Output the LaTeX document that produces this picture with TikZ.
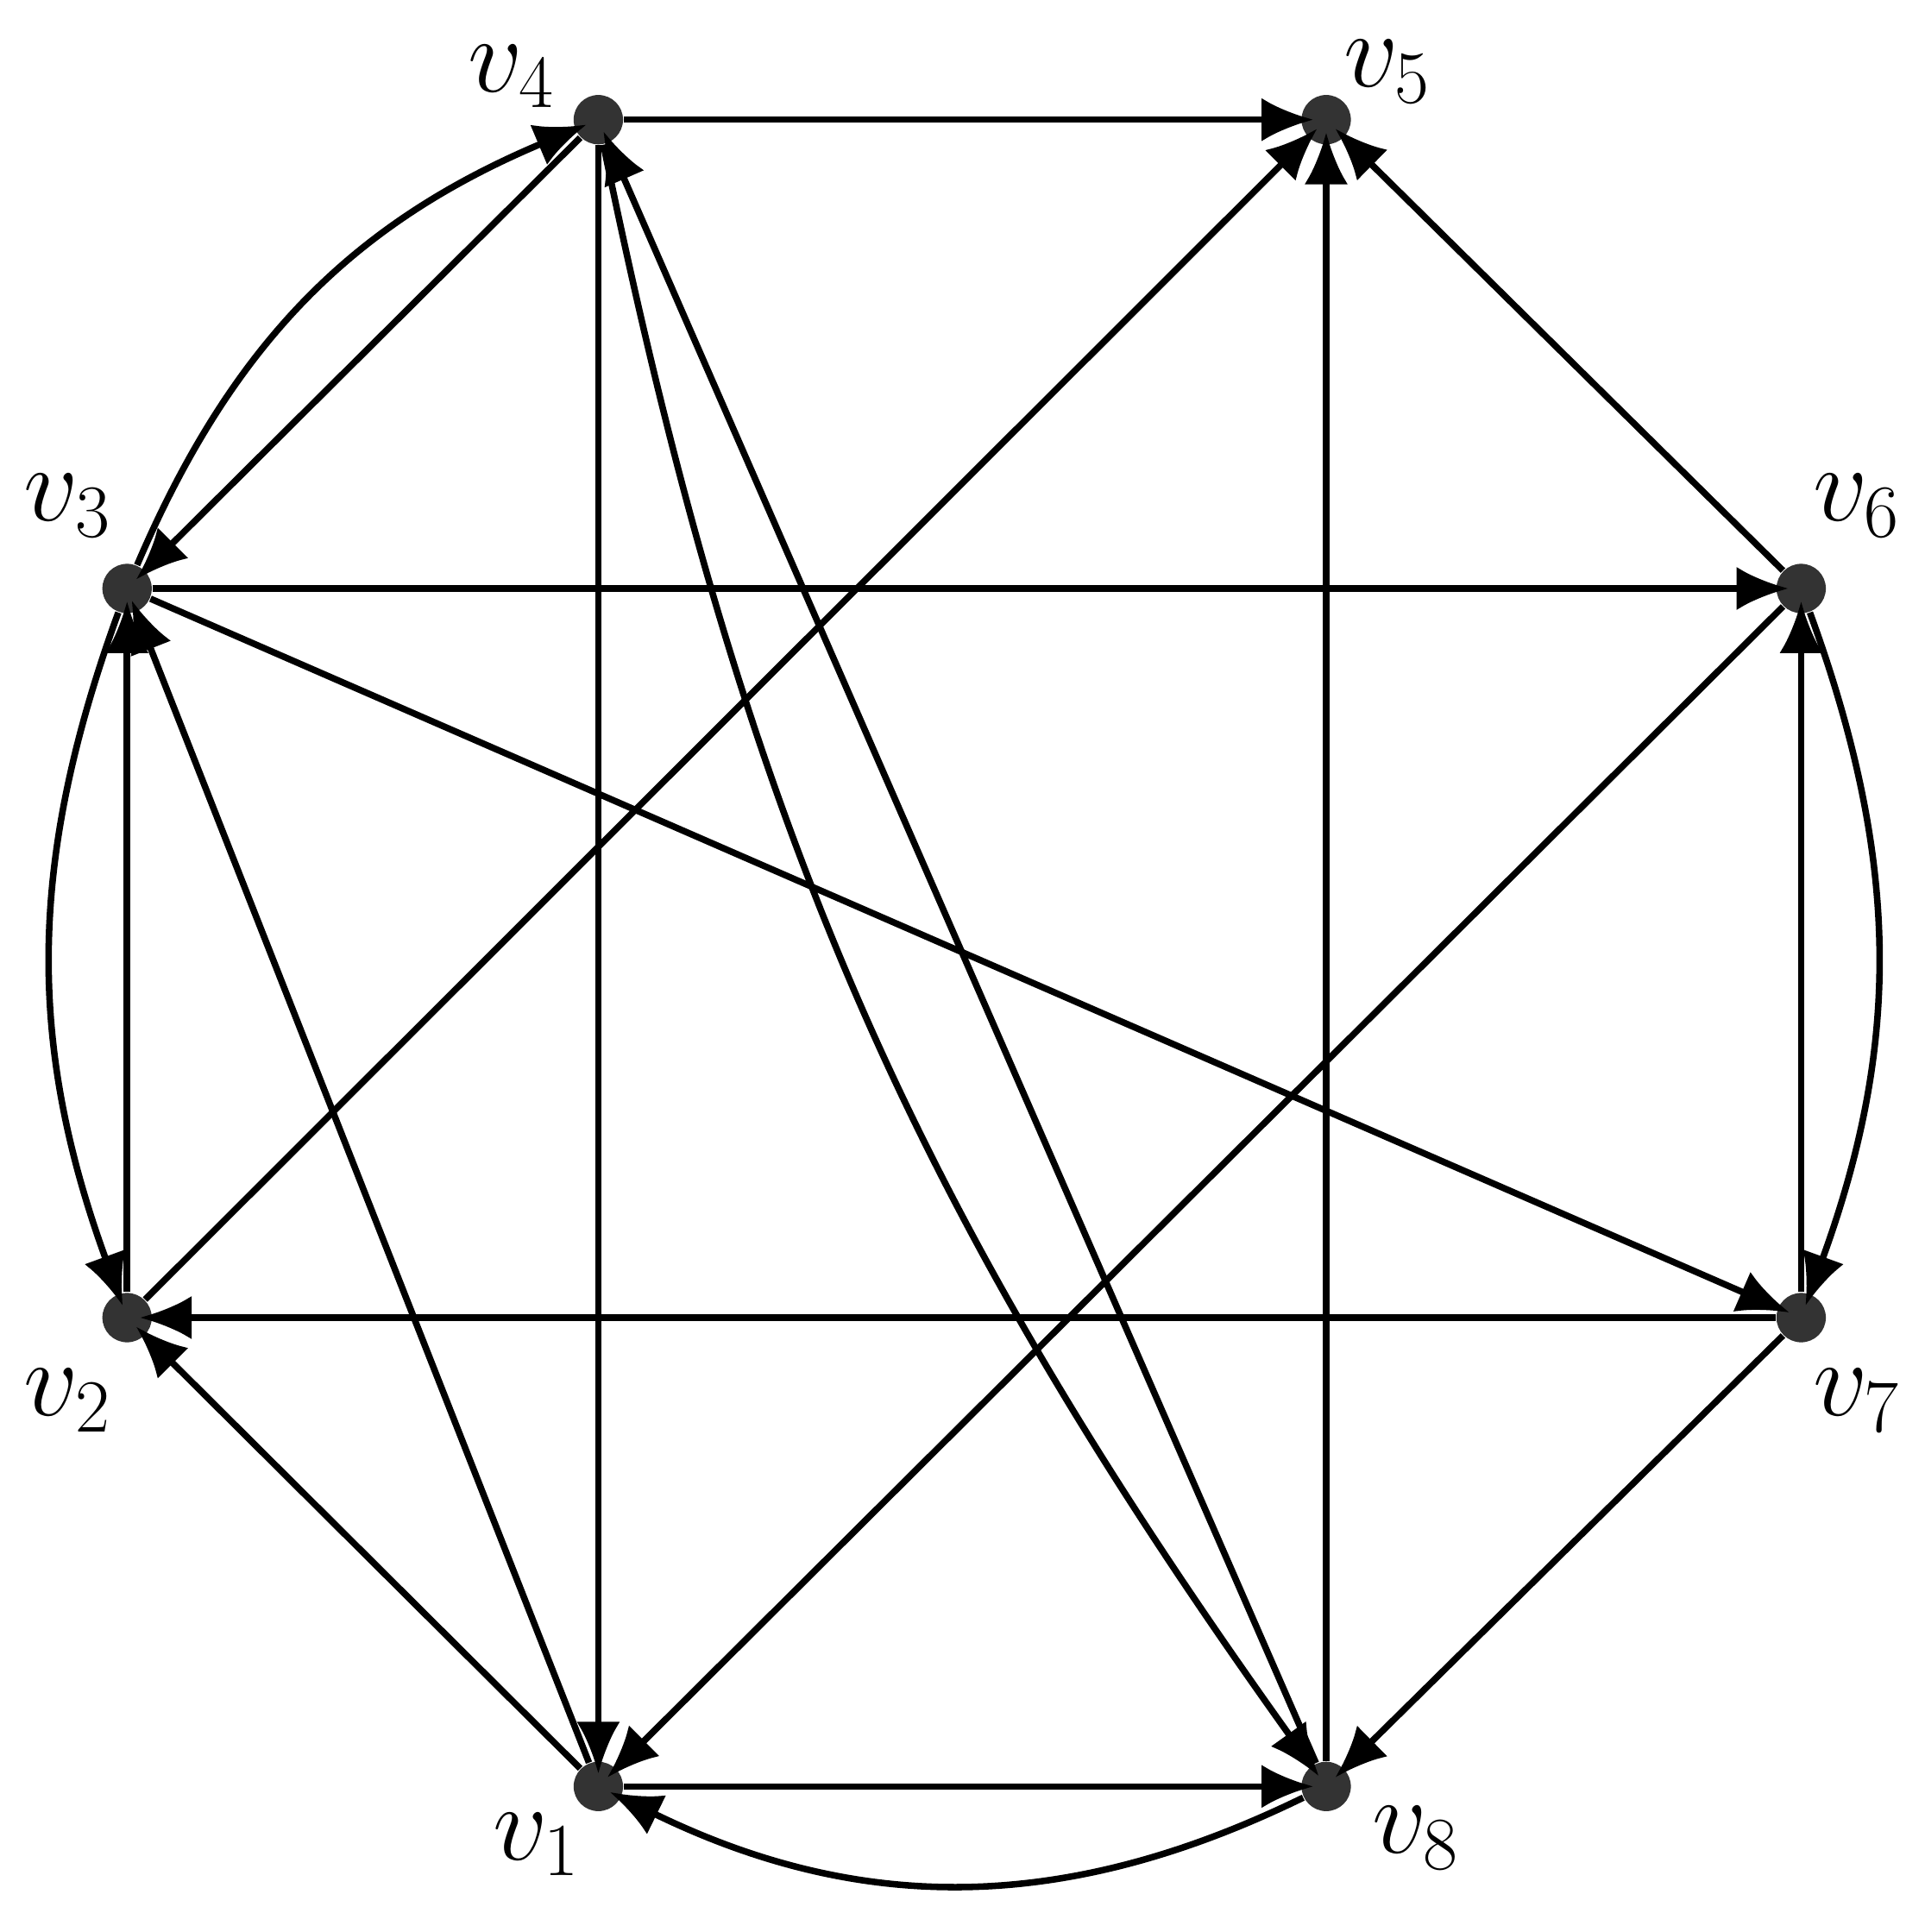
\documentclass[tikz,border=0pt]{standalone}
\usetikzlibrary{arrows.meta}
\begin{document}
\begin{tikzpicture}[x=0.01cm,y=-0.01cm,
  vtx/.style={circle,fill=black!80,minimum size=0.4cm,inner sep=0pt},
  lbl/.style={font=\fontsize{26}{30}\selectfont},
  e/.style={line width=1.5pt,shorten >=-3pt,-{Latex[length=12pt,width=10pt]}}]
\useasboundingbox (0,0) rectangle (1560,1566);
\node[vtx] (v4) at (485,97) {};
\node[vtx] (v5) at (1075,97) {};
\node[vtx] (v3) at (103,477) {};
\node[vtx] (v6) at (1460,477) {};
\node[vtx] (v2) at (103,1068) {};
\node[vtx] (v7) at (1460,1068) {};
\node[vtx] (v1) at (485,1448) {};
\node[vtx] (v8) at (1075,1448) {};
\node[lbl] (l4) at (415,62) {$v_4$};
\node[lbl] (l5) at (1125,58) {$v_5$};
\node[lbl] (l3) at (55,410) {$v_3$};
\node[lbl] (l6) at (1505,410) {$v_6$};
\node[lbl] (l2) at (55,1135) {$v_2$};
\node[lbl] (l7) at (1505,1135) {$v_7$};
\node[lbl] (l1) at (435,1495) {$v_1$};
\node[lbl] (l8) at (1148,1490) {$v_8$};
\draw[e] (v4) -- (v5);
\draw[e] (v4) -- (v3);
\draw[e] (v3) to[bend left=22] (v4);
\draw[e] (v4) -- (v1);
\draw[e] (v4) to[bend right=12] (v8);
\draw[e] (v8) -- (v4);
\draw[e] (v2) -- (v5);
\draw[e] (v8) -- (v5);
\draw[e] (v6) -- (v5);
\draw[e] (v3) -- (v6);
\draw[e] (v3) -- (v7);
\draw[e] (v1) -- (v3);
\draw[e] (v2) -- (v3);
\draw[e] (v3) to[bend right=20] (v2);
\draw[e] (v6) to[bend left=20] (v7);
\draw[e] (v7) -- (v6);
\draw[e] (v7) -- (v2);
\draw[e] (v6) -- (v1);
\draw[e] (v7) -- (v8);
\draw[e] (v1) -- (v2);
\draw[e] (v1) -- (v8);
\draw[e] (v8) to[bend left=26] (v1);
\end{tikzpicture}
\end{document}
